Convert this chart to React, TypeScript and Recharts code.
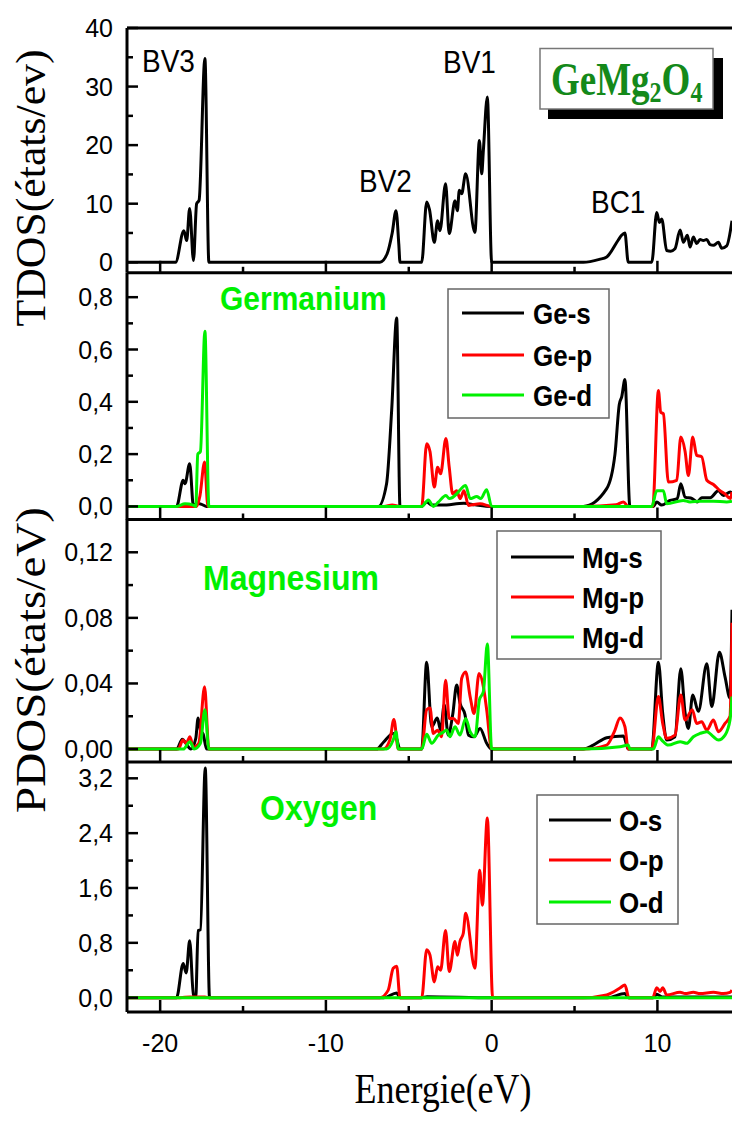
import React from "react";
import { LineChart, Line, XAxis, YAxis, ReferenceLine } from "recharts";

type Pt = [number, number];

const sans = "'Liberation Sans', Arial, sans-serif";
const serif = "'Liberation Serif', 'Times New Roman', serif";

const BLACK = "#000000";
const RED = "#ff0000";
const GREEN = "#00f000";

// shared energy axis
const energyDomain: [number, number] = [-22, 14.5];
const energyTicks = [-20, -15, -10, -5, 0, 5, 10];
const energyMajor = [-20, -10, 0, 10];

// total DOS (états/eV)
const tdos: Pt[] = [
  [-22, 0], [-19.07, 0], [-18.57, 5.4], [-18.4, 3.7], [-18.22, 9.2], [-17.99, 0.3],
  [-17.8, 10.0], [-17.65, 10.6], [-17.3, 34.8], [-17.06, 0], [-6.74, 0], [-6.3, 1.5],
  [-6.0, 5.0], [-5.77, 8.8], [-5.6, 3], [-5.53, 0], [-4.22, 0], [-3.92, 10.3], [-3.75, 9.0],
  [-3.46, 3.4], [-3.26, 7.1], [-3.12, 5.4], [-2.78, 13.4], [-2.56, 4.9], [-2.21, 10.5],
  [-2.07, 8.8], [-1.95, 12.3], [-1.81, 11.7], [-1.57, 15.1], [-1.01, 5.1], [-0.74, 20.8],
  [-0.6, 15.1], [-0.5, 19.1], [-0.26, 28.2], [0, 0], [5.53, 0], [6.5, 0.5], [6.94, 0.9],
  [7.64, 3.8], [7.84, 4.6], [8.04, 5.0], [8.24, 0], [9.66, 0], [9.96, 8.5], [10.12, 6.8],
  [10.26, 7.4], [10.56, 2.0], [10.8, 1.9], [11.06, 2.3], [11.37, 5.5], [11.57, 3.4],
  [11.81, 4.6], [11.97, 2.6], [12.17, 4.3], [12.37, 3.2], [12.57, 3.9], [12.77, 3.7],
  [12.98, 3.9], [13.18, 3.0], [13.38, 2.9], [13.68, 3.4], [13.88, 2.4], [14.18, 2.8], [14.5, 7.1],
];

// germanium partial DOS
const geS: Pt[] = [
  [-22, 0], [-19.01, 0], [-18.61, 0.1], [-18.5, 0.087], [-18.22, 0.163], [-17.99, 0],
  [-17.8, 0.012], [-17.5, 0.008], [-17.2, 0], [-6.84, 0], [-6.34, 0.087], [-6.03, 0.37],
  [-5.73, 0.72], [-5.53, 0], [-4.22, 0], [-3.92, 0.017], [-3.6, 0.005], [-3.0, 0.005],
  [-1.67, 0.012], [-1.0, 0.006], [0, 0], [5.53, 0], [6.94, 0.068], [7.44, 0.2], [7.7, 0.39],
  [7.85, 0.42], [8.04, 0.485], [8.34, 0], [9.76, 0], [9.96, 0.017], [10.26, 0.005],
  [10.76, 0.023], [11.2, 0.03], [11.41, 0.087], [11.67, 0.036], [12.1, 0.03], [12.4, 0.017],
  [12.67, 0.033], [13.18, 0.033], [13.68, 0.06], [13.98, 0.042], [14.4, 0.055], [14.5, 0.05],
];
const geP: Pt[] = [
  [-22, 0], [-17.8, 0], [-17.6, 0.04], [-17.32, 0.17], [-17.12, 0], [-6.5, 0], [-6.0, 0.005],
  [-5.53, 0], [-4.22, 0], [-3.92, 0.24], [-3.72, 0.21], [-3.46, 0.074], [-3.26, 0.15],
  [-3.08, 0.125], [-2.76, 0.26], [-2.56, 0.15], [-2.35, 0.048], [-2.11, 0.06], [-1.91, 0.03],
  [-1.67, 0.06], [-1.4, 0.004], [-0.7, 0.01], [0, 0], [5.53, 0], [7.5, 0.006], [7.95, 0.017],
  [8.24, 0], [9.72, 0], [10.06, 0.443], [10.2, 0.36], [10.36, 0.354], [10.66, 0.093],
  [11.17, 0.1], [11.41, 0.265], [11.67, 0.21], [11.87, 0.118], [12.13, 0.265], [12.37, 0.195],
  [12.67, 0.19], [12.98, 0.1], [13.38, 0.084], [13.78, 0.06], [14.08, 0.048], [14.4, 0.03],
  [14.5, 0.055],
];
const geD: Pt[] = [
  [-22, 0], [-19, 0], [-18.5, 0.01], [-18.0, 0.005], [-17.85, 0], [-17.73, 0.2], [-17.57, 0.21],
  [-17.3, 0.67], [-17.06, 0], [-4.22, 0], [-3.82, 0.025], [-3.52, 0], [-3.22, 0.016],
  [-2.76, 0.042], [-2.56, 0.03], [-2.11, 0.048], [-1.95, 0.06], [-1.57, 0.08], [-1.3, 0.03],
  [-0.9, 0.038], [-0.66, 0.03], [-0.3, 0.064], [0, 0], [9.66, 0], [9.96, 0.06], [10.36, 0.06],
  [10.56, 0.01], [11.56, 0.023], [11.97, 0.017], [12.57, 0.02], [13.38, 0.02], [14.18, 0.017],
  [14.5, 0.02],
];

// magnesium partial DOS
const mgS: Pt[] = [
  [-22, 0], [-19.0, 0], [-18.66, 0.006], [-18.45, 0.0035], [-18.15, 0], [-17.85, 0.0065],
  [-17.71, 0.019], [-17.57, 0.0115], [-17.4, 0.009], [-17.2, 0], [-6.94, 0], [-6.54, 0.004],
  [-5.94, 0.0095], [-5.77, 0.0075], [-5.53, 0], [-4.22, 0], [-3.92, 0.053], [-3.62, 0.0136],
  [-3.28, 0.019], [-3.08, 0.0115], [-2.86, 0.027], [-2.62, 0.0085], [-2.35, 0.021],
  [-2.11, 0.039], [-1.91, 0.028], [-1.61, 0.021], [-1.4, 0.0085], [-1.06, 0.0075],
  [-0.7, 0.0126], [-0.3, 0.0035], [0, 0], [5.53, 0], [6.13, 0.0024], [6.94, 0.0069],
  [7.95, 0.008], [8.24, 0], [9.66, 0], [10.06, 0.053], [10.32, 0.0217], [10.56, 0.0055],
  [11.06, 0.0075], [11.41, 0.049], [11.67, 0.022], [11.87, 0.0126], [12.13, 0.033],
  [12.47, 0.023], [12.98, 0.052], [13.28, 0.026], [13.74, 0.059], [14.08, 0.044],
  [14.38, 0.031], [14.5, 0.085],
];
const mgP: Pt[] = [
  [-22, 0], [-18.9, 0], [-18.63, 0.0055], [-18.43, 0.0035], [-18.2, 0.0075], [-18.0, 0.001],
  [-17.67, 0.0035], [-17.32, 0.038], [-17.06, 0], [-6.54, 0], [-6.14, 0.0055], [-5.9, 0.018],
  [-5.63, 0], [-4.22, 0], [-3.92, 0.024], [-3.72, 0.025], [-3.52, 0.0095], [-3.26, 0.0115],
  [-3.02, 0.0075], [-2.78, 0.042], [-2.56, 0.0187], [-2.31, 0.0187], [-2.01, 0.0156],
  [-1.81, 0.043], [-1.57, 0.047], [-1.3, 0.032], [-1.06, 0.0217], [-0.76, 0.046], [-0.5, 0.038],
  [-0.3, 0.024], [0, 0], [5.53, 0], [6.94, 0.0024], [7.44, 0.0116], [7.74, 0.019],
  [8.04, 0.0136], [8.24, 0], [9.66, 0], [10.06, 0.032], [10.32, 0.0156], [10.56, 0.0065],
  [11.06, 0.0085], [11.41, 0.033], [11.67, 0.0177], [12.1, 0.024], [12.37, 0.0156],
  [12.67, 0.0167], [12.98, 0.0116], [13.38, 0.0177], [13.68, 0.0106], [14.08, 0.0156],
  [14.38, 0.02], [14.5, 0.077],
];
const mgD: Pt[] = [
  [-22, 0], [-18.6, 0], [-18.2, 0.0045], [-17.95, 0], [-17.57, 0.0035], [-17.3, 0.024],
  [-17.06, 0], [-6.34, 0], [-5.94, 0.0055], [-5.77, 0.0106], [-5.63, 0], [-4.22, 0],
  [-3.92, 0.009], [-3.62, 0.0035], [-3.22, 0.0085], [-2.96, 0.01], [-2.72, 0.0116],
  [-2.52, 0.0075], [-2.21, 0.0136], [-1.91, 0.0085], [-1.57, 0.0187], [-1.3, 0.0106],
  [-1.0, 0.0075], [-0.74, 0.03], [-0.5, 0.035], [-0.26, 0.064], [0, 0], [5.53, 0],
  [7.74, 0.0014], [8.24, 0.0024], [8.34, 0], [9.76, 0], [10.06, 0.0075], [10.26, 0.0055],
  [10.66, 0.0024], [11.37, 0.0045], [11.77, 0.0035], [12.17, 0.0075], [12.57, 0.0095],
  [12.98, 0.0106], [13.38, 0.0075], [13.68, 0.0055], [14.08, 0.0085], [14.38, 0.0177],
  [14.5, 0.032],
];

// oxygen partial DOS
const oS: Pt[] = [
  [-22, 0], [-19.01, 0], [-18.61, 0.5], [-18.43, 0.36], [-18.22, 0.83], [-17.99, 0.04],
  [-17.85, 0.02], [-17.71, 0.98], [-17.57, 0.99], [-17.28, 3.35], [-17.02, 0], [-6.5, 0],
  [-5.73, 0.07], [-5.53, 0], [-4.22, 0], [-3.9, 0.015], [0, 0], [7.0, 0], [8.04, 0.06],
  [8.24, 0], [9.76, 0], [9.96, 0.05], [10.3, 0.01], [14.5, 0.01],
];
const oP: Pt[] = [
  [-22, 0], [-18.8, 0], [-18.2, 0.01], [-17.3, 0.01], [-17.06, 0], [-6.74, 0], [-6.24, 0.11],
  [-5.94, 0.43], [-5.73, 0.46], [-5.53, 0], [-4.22, 0], [-3.92, 0.7], [-3.72, 0.62],
  [-3.46, 0.23], [-3.26, 0.45], [-3.08, 0.4], [-2.78, 0.98], [-2.56, 0.38], [-2.21, 0.82],
  [-2.07, 0.62], [-1.91, 0.82], [-1.71, 0.94], [-1.57, 1.23], [-1.01, 0.43], [-0.72, 1.86],
  [-0.56, 1.35], [-0.26, 2.62], [0.06, 0], [5.53, 0], [6.94, 0.04], [7.74, 0.14], [8.04, 0.185],
  [8.28, 0], [9.72, 0], [9.96, 0.146], [10.16, 0.09], [10.32, 0.146], [10.56, 0.04],
  [11.37, 0.078], [11.67, 0.06], [12.17, 0.078], [12.57, 0.06], [13.38, 0.078], [13.98, 0.06],
  [14.38, 0.078], [14.5, 0.11],
];
const oD: Pt[] = [[-22, 0], [14.5, 0]];

// y ticks per panel (even index = labelled major tick)
const tdosTicks = [0, 5, 10, 15, 20, 25, 30, 35, 40];
const geTicks = [0, 0.1, 0.2, 0.3, 0.4, 0.5, 0.6, 0.7, 0.8];
const mgTicks = [0, 0.02, 0.04, 0.06, 0.08, 0.1, 0.12];
const oTicks = [0, 0.4, 0.8, 1.2, 1.6, 2, 2.4, 2.8, 3.2];

interface Series {
  name: string;
  pts: Pt[];
  color: string;
}

const tdosSeries: Series[] = [{ name: "TDOS", pts: tdos, color: BLACK }];
const geSeries: Series[] = [
  { name: "Ge-s", pts: geS, color: BLACK },
  { name: "Ge-p", pts: geP, color: RED },
  { name: "Ge-d", pts: geD, color: GREEN },
];
const mgSeries: Series[] = [
  { name: "Mg-s", pts: mgS, color: BLACK },
  { name: "Mg-p", pts: mgP, color: RED },
  { name: "Mg-d", pts: mgD, color: GREEN },
];
const oSeries: Series[] = [
  { name: "O-s", pts: oS, color: BLACK },
  { name: "O-p", pts: oP, color: RED },
  { name: "O-d", pts: oD, color: GREEN },
];

const toRows = (pts: Pt[]) => pts.map(([e, v]) => ({ e, v }));

const AXIS = { stroke: "#000", strokeWidth: 3 };

const makeXTick = (showLabel: boolean) => (p: any) => {
  const v = p.payload.value;
  const major = energyMajor.includes(v);
  return (
    <g>
      <line x1={p.x} x2={p.x} y1={p.y} y2={p.y - (major ? 12 : 6)} stroke="#000" strokeWidth={2.5} />
      {showLabel && major && (
        <text x={p.x} y={p.y + 40} textAnchor="middle" fontSize={25} fontFamily={sans} fill="#000">
          {v}
        </text>
      )}
    </g>
  );
};

const makeYTick = (decimals: number) => (p: any) => {
  const major = p.index % 2 === 0;
  const v: number = p.payload.value;
  return (
    <g>
      <line x1={p.x} x2={p.x + (major ? 11 : 6)} y1={p.y} y2={p.y} stroke="#000" strokeWidth={2.5} />
      {major && (
        <text x={p.x - 14} y={p.y} dy="0.36em" textAnchor="end" fontSize={25} fontFamily={sans} fill="#000">
          {v.toFixed(decimals).replace(".", ",")}
        </text>
      )}
    </g>
  );
};

interface PanelProps {
  plotTop: number;
  plotH: number;
  yDomain: [number, number];
  yTicks: number[];
  decimals: number;
  series: Series[];
  showX?: boolean;
  topBorder?: boolean;
}

function Panel({ plotTop, plotH, yDomain, yTicks, decimals, series, showX, topBorder }: PanelProps) {
  const mTop = 14;
  const axisH = showX ? 60 : 4;
  return (
    <div style={{ position: "absolute", left: 0, top: plotTop - mTop }}>
      <LineChart width={732} height={mTop + plotH + axisH} margin={{ top: mTop, right: 0, bottom: 0, left: 0 }}>
        <XAxis
          dataKey="e"
          type="number"
          domain={energyDomain}
          allowDataOverflow
          ticks={energyTicks}
          interval={0}
          height={axisH}
          tickSize={0}
          tickMargin={0}
          tickLine={false}
          axisLine={AXIS}
          tick={makeXTick(!!showX)}
        />
        <YAxis
          type="number"
          domain={yDomain}
          allowDataOverflow
          ticks={yTicks}
          interval={0}
          width={127}
          tickSize={0}
          tickMargin={0}
          tickLine={false}
          axisLine={AXIS}
          tick={makeYTick(decimals)}
        />
        {topBorder && <ReferenceLine y={yDomain[1]} stroke="#000" strokeWidth={3} />}
        {series.map((s) => (
          <Line
            key={s.name}
            data={toRows(s.pts)}
            dataKey="v"
            name={s.name}
            type="monotone"
            stroke={s.color}
            strokeWidth={3}
            strokeLinejoin="round"
            dot={false}
            isAnimationActive={false}
          />
        ))}
      </LineChart>
    </div>
  );
}

// text stretched vertically about its baseline, like the reference figure
function SText({ x, y, sy = 1, children, ...rest }: any) {
  return (
    <text transform={`translate(${x} ${y}) scale(1 ${sy})`} x={0} y={0} {...rest}>
      {children}
    </text>
  );
}

function LegendBox({ x, y, w, h, lineX1, lineX2, textX, rowYs, series }: {
  x: number; y: number; w: number; h: number; lineX1: number; lineX2: number; textX: number; rowYs: number[]; series: Series[];
}) {
  return (
    <g>
      <rect x={x} y={y} width={w} height={h} fill="#fff" stroke="#666" strokeWidth={1.5} />
      {series.map((s, i) => (
        <g key={s.name}>
          <line x1={lineX1} x2={lineX2} y1={rowYs[i]} y2={rowYs[i]} stroke={s.color} strokeWidth={3} />
          <SText x={textX} y={rowYs[i] + 10.5} sy={1.12} fontSize={26} fontWeight="bold" fontFamily={sans} fill="#000">
            {s.name}
          </SText>
        </g>
      ))}
    </g>
  );
}

export default function App() {
  return (
    <div style={{ position: "absolute", left: 0, top: 0, width: 732, height: 1131, background: "#fff", overflow: "hidden" }}>
      <Panel plotTop={27.7} plotH={244.8} yDomain={[-1.8, 40]} yTicks={tdosTicks} decimals={0} series={tdosSeries} topBorder />
      <Panel plotTop={272.5} plotH={246.5} yDomain={[-0.05, 0.8925]} yTicks={geTicks} decimals={1} series={geSeries} />
      <Panel plotTop={519} plotH={243} yDomain={[-0.0079, 0.1403]} yTicks={mgTicks} decimals={2} series={mgSeries} />
      <Panel plotTop={762} plotH={250} yDomain={[-0.209, 3.438]} yTicks={oTicks} decimals={1} series={oSeries} showX />

      <svg width={732} height={1131} style={{ position: "absolute", left: 0, top: 0, pointerEvents: "none" }}>
        {/* axis titles */}
        <text x={45} y={188} transform="rotate(-90 45 188)" textAnchor="middle" fontSize={42} fontFamily={serif}
          textLength={277} lengthAdjust="spacingAndGlyphs" fill="#000">TDOS(états/ev)</text>
        <text x={45} y={660} transform="rotate(-90 45 660)" textAnchor="middle" fontSize={42} fontFamily={serif}
          textLength={306} lengthAdjust="spacingAndGlyphs" fill="#000">PDOS(états/eV)</text>
        <text x={443} y={1103} textAnchor="middle" fontSize={42} fontFamily={serif}
          textLength={177} lengthAdjust="spacingAndGlyphs" fill="#000">Energie(eV)</text>

        {/* band labels */}
        <SText x={142} y={72} sy={1.15} fontSize={28} fontFamily={sans} fill="#000">BV3</SText>
        <SText x={443} y={72.5} sy={1.15} fontSize={28} fontFamily={sans} fill="#000">BV1</SText>
        <SText x={359} y={192} sy={1.15} fontSize={28} fontFamily={sans} fill="#000">BV2</SText>
        <SText x={591} y={213} sy={1.15} fontSize={28} fontFamily={sans} fill="#000">BC1</SText>

        {/* compound box */}
        <rect x={548} y={58} width={175} height={61} fill="#000" />
        <rect x={540} y={48.5} width={173} height={60.5} fill="#fff" stroke="#777" strokeWidth={1.5} />
        <SText x={551} y={95} sy={1.25} fontSize={37} fontWeight="bold" fontFamily={serif} fill="#14891a">
          GeMg<tspan fontSize={24} dy={5.5}>2</tspan><tspan dy={-5.5}>O</tspan><tspan fontSize={24} dy={5.5}>4</tspan>
        </SText>

        {/* element names */}
        <SText x={220} y={310} sy={1.1} fontSize={30} fontWeight="bold" fontFamily={sans} fill={GREEN}>Germanium</SText>
        <SText x={203} y={590} sy={1.1} fontSize={32} fontWeight="bold" fontFamily={sans} fill={GREEN}>Magnesium</SText>
        <SText x={260} y={820} sy={1.1} fontSize={32} fontWeight="bold" fontFamily={sans} fill={GREEN}>Oxygen</SText>

        {/* legends */}
        <LegendBox x={448} y={289} w={161} h={129} lineX1={462} lineX2={524} textX={533} rowYs={[313, 355, 395]} series={geSeries} />
        <LegendBox x={497} y={531} w={164} h={128} lineX1={511} lineX2={574} textX={582} rowYs={[557, 597, 637]} series={mgSeries} />
        <LegendBox x={537} y={795} w={141} h={129} lineX1={549} lineX2={611} textX={619} rowYs={[820, 860, 902]} series={oSeries} />
      </svg>
    </div>
  );
}
